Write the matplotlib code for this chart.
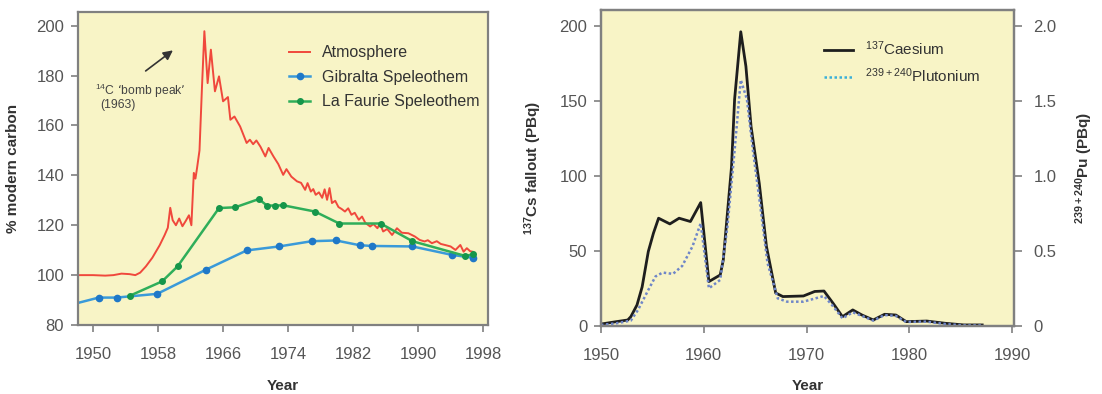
import matplotlib
matplotlib.use("Agg")
import matplotlib.pyplot as plt

plt.rcParams['font.family'] = ['Liberation Sans', 'DejaVu Sans']
plt.rcParams['mathtext.default'] = 'regular'

# ---- left panel: 14C ----
atm_year = [1948.2, 1950.0, 1951.5, 1952.5, 1953.5, 1954.5, 1955.2, 1955.8, 1956.5, 1957.3,
            1958.2, 1958.8, 1959.2, 1959.5, 1959.8, 1960.2, 1960.6, 1961.0, 1961.4, 1961.8,
            1962.1, 1962.4, 1962.6, 1962.8, 1963.1, 1963.4, 1963.7, 1964.1, 1964.5, 1965.0,
            1965.5, 1966.0, 1966.6, 1966.9, 1967.4, 1968.1, 1968.9, 1969.3, 1969.7, 1970.1,
            1970.6, 1971.2, 1971.6, 1972.2, 1972.8, 1973.4, 1973.8, 1974.4, 1975.1, 1975.6,
            1976.1, 1976.4, 1976.8, 1977.1, 1977.4, 1977.8, 1978.2, 1978.5, 1978.8, 1979.1,
            1979.4, 1979.8, 1980.2, 1980.6, 1981.0, 1981.4, 1981.8, 1982.2, 1982.7, 1983.1,
            1983.5, 1984.1, 1984.5, 1985.0, 1985.3, 1985.7, 1986.2, 1986.8, 1987.4, 1988.0,
            1988.8, 1989.6, 1990.2, 1990.8, 1991.2, 1991.7, 1992.3, 1992.8, 1993.3, 1994.0,
            1994.6, 1995.2, 1995.6, 1996.0, 1996.4, 1996.7]
atm_pmc = [100.0, 100.0, 99.8, 100.0, 100.6, 100.4, 100.0, 101.0, 103.5, 107.0,
           112.0, 116.0, 119.0, 127.0, 122.0, 120.0, 122.7, 119.6, 121.7, 124.0,
           120.0, 141.0, 138.7, 143.0, 150.0, 175.0, 197.8, 177.0, 190.4, 173.7,
           179.7, 169.7, 171.4, 162.3, 163.6, 159.6, 153.0, 154.3, 152.5, 154.0,
           151.5, 147.6, 151.0, 147.6, 144.5, 140.2, 142.5, 139.5, 137.6, 137.0,
           134.2, 136.9, 133.5, 134.5, 132.2, 133.2, 131.0, 134.4, 130.2, 134.9,
           128.9, 129.8, 127.3, 126.5, 125.5, 126.8, 124.2, 125.0, 122.2, 123.5,
           121.0, 119.5, 120.5, 118.8, 120.8, 117.5, 118.5, 116.1, 118.8, 117.0,
           116.8, 115.5, 114.1, 113.5, 114.0, 112.8, 113.6, 112.5, 112.1, 111.5,
           110.1, 112.1, 109.4, 110.8, 109.6, 109.4]

gib_year = [1948.2, 1950.7, 1952.9, 1957.9, 1963.9, 1968.9, 1972.9, 1976.9, 1979.9,
            1982.8, 1984.3, 1989.3, 1994.2, 1996.7]
gib_pmc = [88.9, 91.0, 91.0, 92.5, 102.2, 109.9, 111.5, 113.6, 113.9,
           112.0, 111.7, 111.5, 108.1, 107.0]
gib_marker = list(range(1, len(gib_year)))

lf_year = [1954.5, 1958.5, 1960.4, 1965.5, 1967.5, 1970.4, 1971.4, 1972.4, 1973.4,
           1977.3, 1980.3, 1985.4, 1989.3, 1995.8, 1996.7]
lf_pmc = [91.7, 97.5, 103.5, 126.9, 127.2, 130.5, 127.9, 127.9, 128.0,
          125.5, 120.7, 120.7, 113.6, 107.7, 108.3]

# ---- right panel: fallout ----
cs_year = [1950.0, 1951.5, 1952.6, 1952.9, 1953.5, 1954.0, 1954.6, 1955.1, 1955.6, 1956.7,
           1957.6, 1958.7, 1959.7, 1960.5, 1961.6, 1961.9, 1962.7, 1963.0, 1963.6, 1964.1,
           1964.6, 1965.4, 1966.1, 1967.0, 1967.7, 1969.7, 1970.8, 1971.7, 1972.6, 1973.5,
           1974.5, 1975.4, 1976.5, 1977.6, 1978.7, 1979.7, 1981.7, 1983.5, 1985.3, 1987.1]
cs_pbq = [1.3, 2.9, 4.0, 6.2, 14.0, 26.0, 49.6, 61.8, 71.8, 68.0,
          71.8, 69.6, 82.2, 29.6, 34.0, 44.0, 106.0, 151.0, 196.0, 173.0,
          133.0, 95.0, 53.0, 22.0, 19.6, 20.0, 23.0, 23.3, 15.0, 6.2,
          10.7, 7.3, 4.0, 7.8, 7.3, 2.9, 3.3, 1.8, 0.7, 0.7]

pu_year = [1950.0, 1951.5, 1952.9, 1953.6, 1954.6, 1955.3, 1956.0, 1957.0, 1957.9, 1958.9,
           1959.7, 1960.5, 1961.6, 1962.3, 1963.0, 1963.6, 1964.2, 1964.8, 1965.5, 1966.2,
           1967.2, 1968.1, 1969.7, 1971.7, 1972.6, 1973.5, 1974.5, 1975.4, 1976.5, 1977.6,
           1978.7, 1979.7, 1981.7, 1983.5, 1985.3, 1987.1]
pu_pbq = [0.007, 0.018, 0.036, 0.107, 0.24, 0.33, 0.356, 0.347, 0.40, 0.53,
          0.684, 0.251, 0.307, 0.66, 1.17, 1.64, 1.51, 1.16, 0.80, 0.42,
          0.184, 0.162, 0.162, 0.20, 0.13, 0.051, 0.091, 0.067, 0.036, 0.073,
          0.067, 0.027, 0.029, 0.013, 0.004, 0.004]

bg = '#f8f4c6'
spine_c = '#808080'
tick_c = '#555555'
lab_c = '#333333'

fig = plt.figure(figsize=(11.02, 3.94), dpi=100)


def style(ax):
    ax.set_facecolor(bg)
    for s in ax.spines.values():
        s.set_color(spine_c)
        s.set_linewidth(1.6)
    ax.tick_params(colors=spine_c, labelcolor=tick_c, labelsize=12, length=5, width=1.2)
    ax.tick_params(axis='x', pad=11)
    ax.tick_params(axis='y', pad=5)


ax1 = fig.add_axes([0.0708, 0.1751, 0.372, 0.7944])
style(ax1)
ax1.plot(atm_year, atm_pmc, color='#f0483c', lw=1.4, label='Atmosphere')
ax1.plot(gib_year, gib_pmc, color='#3a9ad9', lw=1.8, marker='o', ms=4.5,
         mfc='#1f78c8', mec='#1f78c8', markevery=gib_marker, label='Gibralta Speleothem')
ax1.plot(lf_year, lf_pmc, color='#2fae5a', lw=1.8, marker='o', ms=4,
         mfc='#16964a', mec='#16964a', label='La Faurie Speleothem')
ax1.set_xlim(1948.15, 1998.6)
ax1.set_ylim(80, 205.5)
ax1.set_xticks([1950, 1958, 1966, 1974, 1982, 1990, 1998])
ax1.set_yticks([80, 100, 120, 140, 160, 180, 200])
ax1.set_xlabel('Year', fontsize=11, fontweight='bold', color=lab_c)
ax1.xaxis.set_label_coords(0.5, -0.173)
ax1.set_ylabel('% modern carbon', fontsize=11, fontweight='bold', color=lab_c)
ax1.yaxis.set_label_coords(-0.141, 0.5)
ax1.annotate('', xy=(1960.1, 190.8), xytext=(1956.2, 181.2),
             arrowprops=dict(arrowstyle='-|>', color='#333333', lw=1.2, mutation_scale=14))
ax1.text(1950.3, 174, "$^{14}$C ‘bomb peak’", fontsize=8.7, color='#444444', va='center')
ax1.text(1950.9, 168.3, '(1963)', fontsize=8.7, color='#444444', va='center')
leg1 = ax1.legend(loc='upper left', bbox_to_anchor=(0.48, 0.94), frameon=False,
                  fontsize=11.5, handlelength=1.3, labelspacing=0.6, handletextpad=0.75)
for t in leg1.get_texts():
    t.set_color('#333333')

ax2 = fig.add_axes([0.5454, 0.1726, 0.3748, 0.802])
style(ax2)
ax2.plot(cs_year, cs_pbq, color='#1e1e1e', lw=2.0, label='$^{137}$Caesium')
ax2.set_xlim(1950, 1990.2)
ax2.set_ylim(0, 210.5)
ax2.set_xticks([1950, 1960, 1970, 1980, 1990])
ax2.set_yticks([0, 50, 100, 150, 200])
ax2.set_xlabel('Year', fontsize=11, fontweight='bold', color=lab_c)
ax2.xaxis.set_label_coords(0.5, -0.168)
ax2.set_ylabel('$^{137}$Cs fallout (PBq)', fontsize=11, fontweight='bold', color=lab_c)
ax2.yaxis.set_label_coords(-0.138, 0.5)

ax3 = ax2.twinx()
ax3.plot(pu_year, pu_pbq, color='#6f86c8', lw=1.8, ls=(0, (1, 1)), label='$^{239+240}$Plutonium')
ax3.set_ylim(0, 2.105)
ax3.set_yticks([0, 0.5, 1.0, 1.5, 2.0])
ax3.set_yticklabels(['0', '0.5', '1.0', '1.5', '2.0'])
for s in ax3.spines.values():
    s.set_color(spine_c)
    s.set_linewidth(1.6)
ax3.tick_params(colors=spine_c, labelcolor=tick_c, labelsize=12, length=6, width=1.2, pad=8)
ax3.set_ylabel('$^{239+240}$Pu (PBq)', fontsize=11, fontweight='bold', color=lab_c,
               rotation=90)
ax3.yaxis.set_label_coords(1.143, 0.5)

h2, l2 = ax2.get_legend_handles_labels()
h3, l3 = ax3.get_legend_handles_labels()
h3[0] = plt.Line2D([], [], color='#3ab0d8', lw=1.8, ls=(0, (1, 1)))
leg2 = ax3.legend(h2 + h3, l2 + l3, loc='upper left', bbox_to_anchor=(0.506, 0.95), frameon=False,
                  fontsize=11, handlelength=1.9, labelspacing=0.55, handletextpad=0.8)
for t in leg2.get_texts():
    t.set_color('#333333')

fig.savefig('out.png', dpi=100, facecolor='white')
